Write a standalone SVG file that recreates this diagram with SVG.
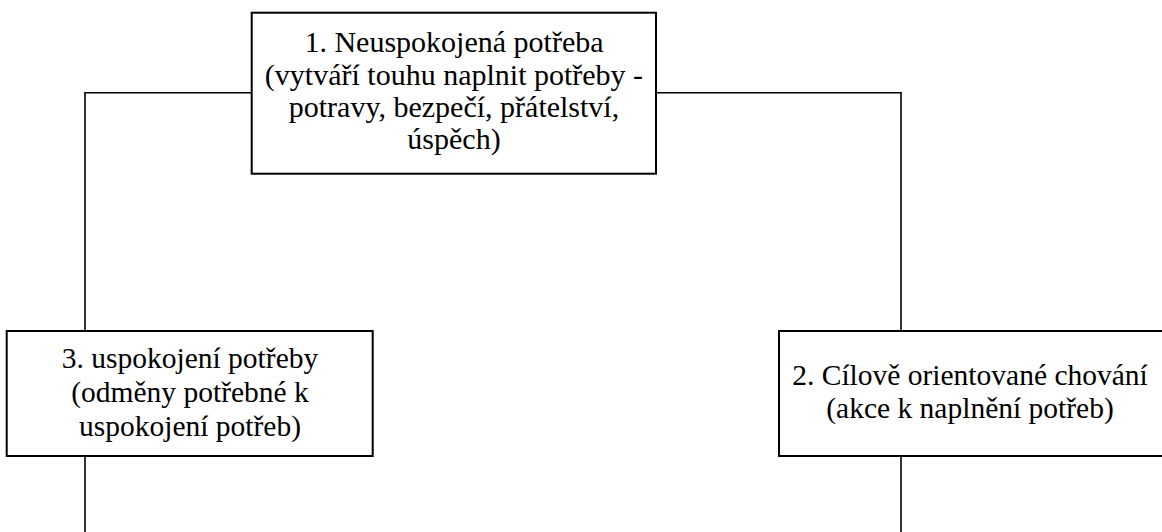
<svg xmlns="http://www.w3.org/2000/svg" width="1162" height="532" viewBox="0 0 1162 532">
<style>
.box{fill:#fff;stroke:#000;stroke-width:2}
.con{fill:none;stroke:#000;stroke-width:1.6}
text{font-family:"Liberation Serif","Times New Roman",serif;font-size:29.5px;fill:#000;text-anchor:middle}
.big{font-size:30px}
</style>
<rect width="1162" height="532" fill="#fff"/>
<g id="connectors">
<path class="con" d="M251 92.7H85V331"/>
<path class="con" d="M85 456V532"/>
<path class="con" d="M656 92.7H901V331"/>
<path class="con" d="M901 456V532"/>
</g>
<g id="node1">
<rect class="box" x="251.7" y="12.7" width="404.3" height="161"/>
<text class="big" x="454" y="52">1. Neuspokojená potřeba</text>
<text class="big" x="454" y="84.5">(vytváří touhu naplnit potřeby -</text>
<text class="big" x="454" y="116.5">potravy, bezpečí, přátelství,</text>
<text class="big" x="454" y="149">úspěch)</text>
</g>
<g id="node3">
<rect class="box" x="6.7" y="331" width="366" height="125"/>
<text x="190" y="368">3. uspokojení potřeby</text>
<text x="190" y="402">(odměny potřebné k</text>
<text x="190" y="436">uspokojení potřeb)</text>
</g>
<g id="node2">
<rect class="box" x="779" y="331" width="386" height="125"/>
<text x="970" y="385">2. Cílově orientované chování</text>
<text x="970" y="418">(akce k naplnění potřeb)</text>
</g>
</svg>
